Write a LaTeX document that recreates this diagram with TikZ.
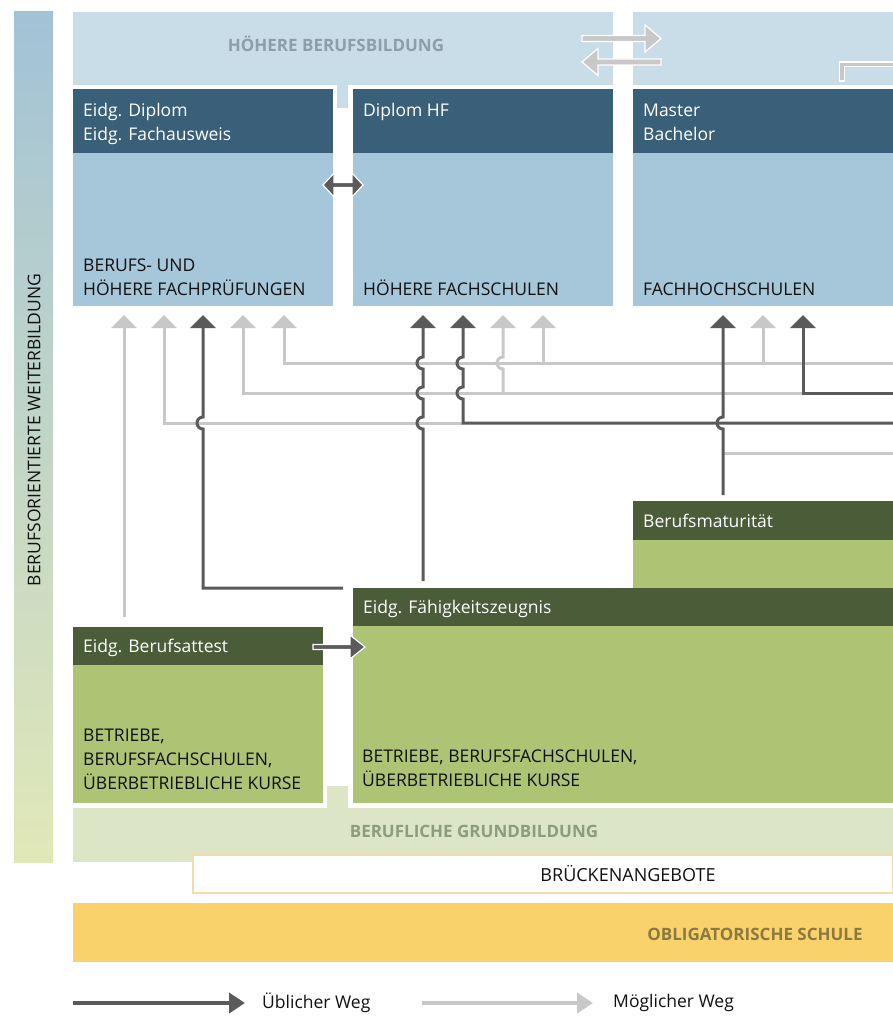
\documentclass[tikz,border=0pt]{standalone}
\usepackage{fontspec}
\setmainfont{Open Sans}
\usetikzlibrary{arrows.meta}
\definecolor{bandBlue}{HTML}{C9DDE8}
\definecolor{boxHead}{HTML}{3A5F78}
\definecolor{boxBody}{HTML}{A6C6D9}
\definecolor{greenHead}{HTML}{4A5C38}
\definecolor{greenBody}{HTML}{ADC474}
\definecolor{paleGreen}{HTML}{DCE6C6}
\definecolor{oblig}{HTML}{FAD26C}
\definecolor{obligTxt}{HTML}{8A7940}
\definecolor{bridgeLine}{HTML}{F6DAAA}
\definecolor{lineLight}{HTML}{C8C8C8}
\definecolor{lineDark}{HTML}{5A5A5A}
\definecolor{txtDark}{HTML}{111111}
\definecolor{bandTxtBlue}{HTML}{8D9EA9}
\definecolor{bandTxtGreen}{HTML}{8D9C7B}
\definecolor{barTop}{HTML}{A2C2D6}
\definecolor{barBot}{HTML}{E1E8B8}
\begin{document}
\begin{tikzpicture}[x=1pt,y=-1pt,
  lightln/.style={draw=lineLight, line width=3pt},
  darkln/.style={draw=lineDark, line width=3pt},
  uptip/.style={-{Triangle[width=25pt,length=13pt]}},
  hdrtxt/.style={anchor=base west, inner sep=0pt, text=white, font=\fontsize{17.5}{20}\selectfont},
  bodytxt/.style={anchor=base west, inner sep=0pt, text=txtDark, font=\fontsize{17.5}{20}\selectfont},
  bandtxt/.style={inner sep=0pt, font=\bfseries\fontsize{17}{20}\selectfont},
  blockarrow/.style={draw=white, line width=1.2pt, line join=miter}]
\useasboundingbox (0,0) rectangle (893,1016);
\fill[white] (0,0) rectangle (893,1016);

% left vertical bar
\shade[top color=barTop, bottom color=barBot] (14,12) rectangle (53,862);
\node[rotate=90, inner sep=0pt, text=txtDark, font=\fontsize{17.5}{20}\selectfont] (side) at (34,430) {BERUFSORIENTIERTE WEITERBILDUNG};

% top band
\fill[bandBlue] (73,12) rectangle (613,85);
\fill[bandBlue] (633,12) rectangle (893,85);
\fill[bandBlue] (337,85) rectangle (348,108);
\node[bandtxt, text=bandTxtBlue] (hbb) at (336,44) {HÖHERE BERUFSBILDUNG};

% exchange arrows
\filldraw[blockarrow, fill=lineLight] (582,35.5) -- (645,35.5) -- (645,25) -- (661,38.5) -- (645,52) -- (645,41.5) -- (582,41.5) -- cycle;
\filldraw[blockarrow, fill=lineLight] (661,59) -- (598,59) -- (598,48.5) -- (582,62) -- (598,75.5) -- (598,65) -- (661,65) -- cycle;
% bracket
\draw[white, line width=6pt] (842,82) -- (842,64.5) -- (893,64.5);
\draw[lineLight, line width=3.5pt] (842,80.5) -- (842,64.5) -- (893,64.5);

% tertiary boxes
\fill[boxBody] (73,89) rectangle (333,306);
\fill[boxHead] (73,89) rectangle (333,153);
\fill[boxBody] (353,89) rectangle (613,306);
\fill[boxHead] (353,89) rectangle (613,153);
\fill[boxBody] (633,89) rectangle (893,306);
\fill[boxHead] (633,89) rectangle (893,153);

\node[hdrtxt] (d1) at (83,117) {Eidg. Diplom};
\node[hdrtxt] (d2) at (83,141) {Eidg. Fachausweis};
\node[bodytxt] (b1) at (83,271) {BERUFS- UND};
\node[bodytxt] (b2) at (83,295) {HÖHERE FACHPRÜFUNGEN};
\node[hdrtxt] (d3) at (363,117) {Diplom HF};
\node[bodytxt] (b3) at (363,295) {HÖHERE FACHSCHULEN};
\node[hdrtxt] (d4) at (643,117) {Master};
\node[hdrtxt] (d5) at (643,141) {Bachelor};
\node[bodytxt] (b4) at (643,295) {FACHHOCHSCHULEN};

% double arrow between box 1 and 2
\filldraw[blockarrow, fill=lineDark] (323,185) -- (334,173) -- (334,182.5) -- (352,182.5) -- (352,173) -- (363,185) -- (352,197) -- (352,187.5) -- (334,187.5) -- (334,197) -- cycle;

% green boxes
\fill[greenBody] (633,501) rectangle (893,588);
\fill[greenHead] (633,501) rectangle (893,540);
\node[hdrtxt] (bm) at (643,527) {Berufsmaturität};

\fill[paleGreen] (327,786) rectangle (348,808);
\fill[paleGreen] (73,808) rectangle (893,862);

\fill[greenBody] (353,588) rectangle (893,803);
\fill[greenHead] (353,588) rectangle (893,626);
\node[hdrtxt] (efz) at (363,613) {Eidg. Fähigkeitszeugnis};
\node[bodytxt] (efz1) at (362,762) {BETRIEBE, BERUFSFACHSCHULEN,};
\node[bodytxt] (efz2) at (362,786) {ÜBERBETRIEBLICHE KURSE};

\fill[greenBody] (73,627) rectangle (323,803);
\fill[greenHead] (73,627) rectangle (323,665);
\node[hdrtxt] (eba) at (83,652) {Eidg. Berufsattest};
\node[bodytxt] (eba1) at (83,741) {BETRIEBE,};
\node[bodytxt] (eba2) at (83,765) {BERUFSFACHSCHULEN,};
\node[bodytxt] (eba3) at (83,789) {ÜBERBETRIEBLICHE KURSE};

\filldraw[blockarrow, fill=lineDark] (313,644.5) -- (350,644.5) -- (350,635) -- (365,647) -- (350,659) -- (350,649.5) -- (313,649.5) -- cycle;

\node[bandtxt, text=bandTxtGreen] (bg) at (474,831) {BERUFLICHE GRUNDBILDUNG};

% bridge offers
\filldraw[fill=white, draw=bridgeLine, line width=1.5pt] (193,855) rectangle (893,893);
\node[inner sep=0pt, text=txtDark, font=\fontsize{18}{21}\selectfont] (br) at (628,874) {BRÜCKENANGEBOTE};

% compulsory school
\fill[oblig] (73,903) rectangle (893,962);
\node[bandtxt, text=obligTxt] (os) at (755,934) {OBLIGATORISCHE SCHULE};

% arrow tips (named end points)
\coordinate (t1) at (124,315);
\coordinate (t2) at (164,315);
\coordinate (t3) at (203,315);
\coordinate (t4) at (243,315);
\coordinate (t5) at (284,315);
\coordinate (t6) at (423,315);
\coordinate (t7) at (463,315);
\coordinate (t8) at (503,315);
\coordinate (t9) at (543,315);
\coordinate (t10) at (723,315);
\coordinate (t11) at (763,315);
\coordinate (t12) at (803,315);

% light pathways
\draw[lightln, uptip] (124,617) -- (t1);
\draw[lightln, uptip] (463,423) -- (164,423) -- (t2);
\draw[lightln, uptip] (803,393) -- (243,393) -- (t4);
\draw[lightln, uptip] (893,363) -- (284,363) -- (t5);
\draw[lightln, uptip] (503,393) -- (503,369) arc[start angle=90, end angle=270, radius=6] -- (t8);
\draw[lightln, uptip] (543,363) -- (t9);
\draw[lightln, uptip] (763,363) -- (t11);
\draw[lightln] (723,453) -- (893,453);

% dark pathways
\draw[darkln, uptip] (343,588) -- (203,588) -- (203,429) arc[start angle=90, end angle=270, radius=6] -- (t3);
\draw[darkln, uptip] (423,581) -- (423,429) arc[start angle=90, end angle=270, radius=6] -- (423,399) arc[start angle=90, end angle=270, radius=6] -- (423,369) arc[start angle=90, end angle=270, radius=6] -- (t6);
\draw[darkln, uptip] (893,423) -- (463,423) -- (463,399) arc[start angle=90, end angle=270, radius=6] -- (463,369) arc[start angle=90, end angle=270, radius=6] -- (t7);
\draw[darkln, uptip] (723,495) -- (723,429) arc[start angle=90, end angle=270, radius=6] -- (t10);
\draw[darkln, uptip] (893,393) -- (803,393) -- (t12);

% legend
\coordinate (l1a) at (73,1003);
\coordinate (l1b) at (245,1003);
\coordinate (l2a) at (422,1003);
\coordinate (l2b) at (593,1003);
\draw[lineDark, line width=4pt, -{Triangle[width=20pt,length=16pt]}] (l1a) -- (l1b);
\node[anchor=west, inner sep=0pt, text=txtDark, font=\fontsize{17.5}{20}\selectfont] (lg1) at (262,1003) {Üblicher Weg};
\draw[lineLight, line width=4pt, -{Triangle[width=20pt,length=16pt]}] (l2a) -- (l2b);
\node[anchor=west, inner sep=0pt, text=txtDark, font=\fontsize{17.5}{20}\selectfont] (lg2) at (613,1003) {Möglicher Weg};
\end{tikzpicture}
\end{document}
